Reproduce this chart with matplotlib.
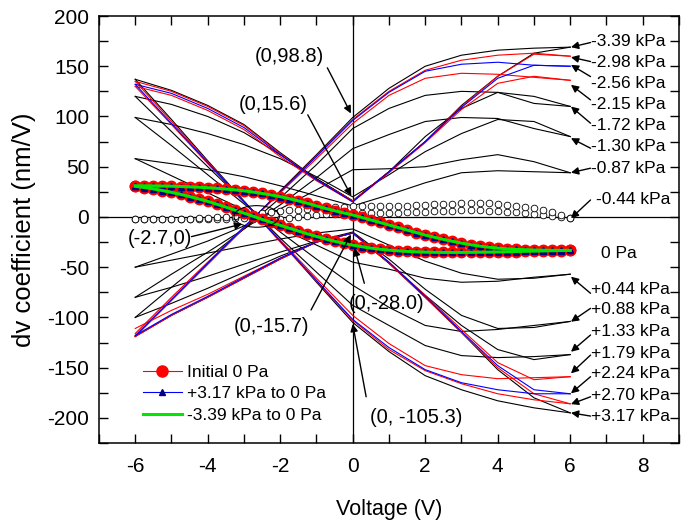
import matplotlib
matplotlib.use('Agg')
import matplotlib.pyplot as plt
from matplotlib.patches import Ellipse
from matplotlib.lines import Line2D
from matplotlib.ticker import MultipleLocator

plt.rcParams['font.family'] = ['Liberation Sans', 'DejaVu Sans']
plt.rcParams['axes.unicode_minus'] = False

# ---------------- data ----------------
V_LOOP = [-6, -5, -4, -3, -2, -1, 0, 1, 2, 3, 4, 5, 6]

# negative pressures: branch a (falls to ~15 at 0 V then rises), branch b (steep rise then plateau)
neg339_a = [137, 126, 111, 92, 64, 38, 16, 45, 75, 111, 140, 163, 169]
neg339_b = [-119, -83, -47, -11, 26, 62, 99, 128, 150, 161, 166, 168, 169]
neg298_a = [135, 125, 110, 91, 63, 37, 16, 45, 75, 110, 140, 162, 160]
neg298_b = [-119, -83, -47, -11, 25, 61, 97, 125, 146, 156, 161, 163, 160]
neg256_a = [132, 123, 108, 89, 62, 37, 15, 45, 75, 109, 138, 151, 150]
neg256_b = [-118, -82, -46, -10, 25, 60, 96, 124, 145, 152, 154, 151, 150]
neg215_a = [130, 121, 106, 87, 60, 36, 15, 44, 74, 107, 133, 140, 136]
neg215_b = [-116, -80, -45, -10, 24, 58, 93, 121, 138, 143, 142, 139, 136]
neg172_a = [120, 112, 100, 84, 62, 38, 16, 45, 80, 108, 124, 120, 110]
neg172_b = [-100, -70, -41, -12, 19, 52, 88, 108, 121, 125, 124, 113, 110]
neg130_a = [99, 92, 83, 72, 58, 40, 20, 42, 65, 83, 97, 95, 80]
neg130_b = [-80, -57, -35, -12, 12, 39, 68, 82, 95, 99, 98, 88, 80]
neg087_a = [58, 53, 47, 40, 31, 21, 11, 22, 34, 44, 46, 45, 44]
neg087_b = [-50, -37, -24, -9, 8, 27, 47, 48, 50, 57, 62, 55, 44]

# positive pressures: branch s (steep fall then plateau), branch c (rises to ~-16 at 0 V then falls)
pos317_s = [137, 97, 56, 16, -24, -65, -105, -134, -158, -172, -183, -190, -195]
pos317_c = [-119, -98, -80, -61, -42, -25, -16, -46, -80, -115, -152, -180, -195]
pos270_s = [135, 95, 55, 15, -25, -64, -103, -132, -153, -166, -176, -182, -186]
pos270_c = [-119, -98, -80, -61, -42, -25, -16, -46, -80, -115, -150, -176, -186]
pos224_s = [132, 93, 54, 15, -24, -63, -102, -130, -152, -165, -172, -176, -176]
pos224_c = [-118, -97, -79, -60, -41, -25, -16, -45, -79, -114, -148, -172, -176]
pos179_s = [130, 92, 53, 15, -23, -61, -98, -126, -148, -157, -161, -160, -159]
pos179_c = [-111, -93, -77, -59, -41, -25, -16, -45, -78, -112, -145, -162, -159]
pos133_s = [120, 85, 50, 15, -21, -55, -88, -108, -128, -138, -140, -139, -137]
pos133_c = [-100, -86, -71, -55, -39, -25, -16, -46, -78, -108, -132, -142, -137]
pos088_s = [99, 71, 42, 13, -15, -42, -68, -90, -108, -114, -112, -108, -104]
pos088_c = [-80, -70, -59, -47, -35, -24, -15, -42, -72, -98, -111, -110, -104]
pos044_s = [58, 41, 24, 7, -11, -28, -45, -52, -61, -65, -64, -60, -57]
pos044_c = [-50, -43, -36, -29, -22, -16, -12, -28, -44, -56, -62, -61, -57]

# fine voltage grid for the marker curves (0.25 V steps)
V_FINE = [-6.0, -5.75, -5.5, -5.25, -5.0, -4.75, -4.5, -4.25, -4.0, -3.75, -3.5, -3.25,
          -3.0, -2.75, -2.5, -2.25, -2.0, -1.75, -1.5, -1.25, -1.0, -0.75, -0.5, -0.25,
          0.0, 0.25, 0.5, 0.75, 1.0, 1.25, 1.5, 1.75, 2.0, 2.25, 2.5, 2.75,
          3.0, 3.25, 3.5, 3.75, 4.0, 4.25, 4.5, 4.75, 5.0, 5.25, 5.5, 5.75, 6.0]

zero_upper = [31.0, 31.0, 30.9, 30.8, 30.6, 30.3, 30.0, 29.6, 29.1, 28.5, 27.8, 27.0,
              26.0, 24.8, 23.4, 21.9, 20.2, 18.2, 16.0, 13.6, 11.0, 8.5, 6.2, 4.0,
              2.0, -0.5, -3.0, -5.5, -8.0, -10.5, -13.0, -15.5, -18.0, -20.2, -22.3, -24.2,
              -26.0, -27.6, -29.0, -30.1, -31.0, -31.7, -32.2, -32.6, -32.9, -33.1, -33.2, -33.3, -33.3]
zero_lower = [30.5, 29.3, 27.9, 26.3, 24.5, 22.5, 20.3, 18.0, 15.5, 12.7, 9.8, 6.8,
              3.8, 0.7, -2.4, -5.4, -8.3, -11.2, -14.0, -16.8, -19.4, -21.9, -24.2, -26.2,
              -28.0, -29.6, -31.0, -32.1, -33.0, -33.7, -34.3, -34.7, -35.0, -35.2, -35.3, -35.3,
              -35.3, -35.2, -35.1, -35.0, -34.8, -34.6, -34.4, -34.2, -34.0, -33.8, -33.6, -33.4, -33.3]

m044_lower = [-2.0, -2.0, -2.0, -2.0, -2.0, -2.0, -2.0, -2.0, -2.0, -1.9, -1.8, -1.5,
              -1.2, -1.6, -2.3, -2.6, -2.2, -1.2, -0.2, 0.9, 1.9, 2.6, 3.1, 3.5,
              3.7, 3.8, 3.9, 4.0, 4.1, 4.3, 4.6, 4.9, 5.2, 5.6, 6.0, 6.3,
              6.5, 6.6, 6.6, 6.4, 6.0, 5.4, 4.6, 3.8, 2.9, 2.0, 1.0, -0.2, -1.3]
m044_upper = [-2.0, -2.0, -2.0, -2.0, -1.9, -1.8, -1.6, -1.3, -1.0, -0.5, 0.2, 1.0,
              2.0, 3.0, 4.0, 5.0, 5.8, 6.6, 7.4, 8.2, 9.0, 9.6, 10.0, 10.3,
              10.5, 10.6, 10.6, 10.7, 10.8, 11.0, 11.3, 11.6, 12.0, 12.4, 12.8, 13.2,
              13.5, 13.7, 13.7, 13.5, 13.0, 12.2, 11.2, 10.0, 8.5, 6.8, 4.8, 1.8, -1.3]

# right-hand pressure labels: (text, label y, arrow tail y, arrow tip y)
press_labels = ['-3.39 kPa', '-2.98 kPa', '-2.56 kPa', '-2.15 kPa', '-1.72 kPa', '-1.30 kPa',
                '-0.87 kPa', '-0.44 kPa', '0 Pa', '+0.44 kPa', '+0.88 kPa', '+1.33 kPa',
                '+1.79 kPa', '+2.24 kPa', '+2.70 kPa', '+3.17 kPa']
label_y = [174.6, 153.7, 133.2, 111.6, 90.6, 70.0, 48.5, 16.9, -36.2, -72.7, -92.6,
           -114.2, -135.8, -155.7, -177.3, -198.2]
tail_y = [173.6, 154.7, 139.7, 116.5, 93.3, 68.4, 48.5, 16.9, None, -76.0, -91.0,
          -117.5, -137.5, -159.0, -179.0, -198.2]
tip_y = [169.0, 159.0, 151.4, 131.5, 109.9, 78.4, 44.1, -1.3, None, -59.5, -104.3,
         -134.2, -155.7, -175.6, -186.3, -195.0]

# point annotations: text, text position, arrow tail, arrow tip
point_notes = [
    ('(0,98.8)', (-1.74, 159.7), (-0.70, 148.4), (-0.05, 103.0)),
    ('(0,15.6)', (-2.20, 111.6), (-1.24, 101.6), (-0.04, 21.0)),
    ('(-2.7,0)', (-5.32, -21.2), (-4.45, -19.6), (-3.05, -7.0)),
    ('(0,-15.7)', (-2.25, -109.3), (-1.15, -92.6), (-0.05, -17.5)),
    ('(0,-28.0)', (0.92, -86.0), (0.32, -66.0), (0.05, -31.0)),
    ('(0, -105.3)', (1.75, -199.2), (0.37, -179.0), (0.0, -106.5)),
]

# ---------------- figure ----------------
fig = plt.figure(figsize=(6.85, 5.25), dpi=100)
ax = fig.add_axes([0.1445, 0.1562, 0.8467, 0.8133])

ax.axhline(0, color='black', lw=0.9, zorder=1)
ax.axvline(0, color='black', lw=0.9, zorder=1)

black_loops = [neg339_a, neg339_b, neg172_a, neg172_b, neg130_a, neg130_b, neg087_a, neg087_b,
               pos317_s, pos317_c, pos133_s, pos133_c, pos088_s, pos088_c, pos044_s, pos044_c]
red_loops = [neg298_a, neg298_b, neg215_a, neg215_b, pos270_s, pos270_c, pos179_s, pos179_c]
blue_loops = [neg256_a, neg256_b, pos224_s, pos224_c]
for ys in black_loops:
    ax.plot(V_LOOP, ys, color='black', lw=0.8, zorder=2)
for ys in red_loops:
    ax.plot(V_LOOP, ys, color='#ff0000', lw=0.8, zorder=3)
for ys in blue_loops:
    ax.plot(V_LOOP, ys, color='#0000ff', lw=0.8, zorder=4)

# -0.44 kPa open circles
for ys in (m044_lower, m044_upper):
    ax.plot(V_FINE, ys, ls='none', marker='o', ms=4.8, mfc='white', mec='black', mew=0.6, zorder=5)

# 0 Pa curves
for ys in (zero_upper, zero_lower):
    ax.plot(V_FINE, ys, color='#ff0000', lw=0.8, marker='o', ms=7.5, mec='#ff0000', zorder=6)
    ax.plot(V_FINE, ys, color='#0000ff', lw=0.8, marker='^', ms=4.5, mfc='#000080', mec='#000080', zorder=7)
    ax.plot(V_FINE, ys, color='#00e600', lw=2.2, zorder=8)

# ellipse at (-2.7, 0)
ax.add_patch(Ellipse((-2.65, 0.5), 1.25, 21.5, fill=False, ec='black', lw=0.8, zorder=9))

arrow_kw = dict(arrowstyle='-|>', color='black', lw=1.0, mutation_scale=11, shrinkA=0, shrinkB=0)

for txt, ly, ty, py in zip(press_labels, label_y, tail_y, tip_y):
    x0 = 6.58
    if txt == '-0.44 kPa':
        x0 = 6.7
    if txt == '0 Pa':
        x0 = 6.84
    ax.text(x0, ly, txt, fontsize=12.5, ha='left', va='center', zorder=10)
    if ty is not None:
        ax.annotate('', xy=(6.02, py), xytext=(6.56, ty), arrowprops=arrow_kw, zorder=10)

for txt, tpos, tail, tip in point_notes:
    ax.text(tpos[0], tpos[1], txt, fontsize=14.5, ha='center', va='center', zorder=10)
    ax.annotate('', xy=tip, xytext=tail, arrowprops=arrow_kw, zorder=10)

ax.set_xlim(-7, 9)
ax.set_ylim(-225, 200)
ax.xaxis.set_major_locator(MultipleLocator(2))
ax.xaxis.set_minor_locator(MultipleLocator(1))
ax.yaxis.set_major_locator(MultipleLocator(50))
ax.yaxis.set_minor_locator(MultipleLocator(25))
ax.tick_params(which='both', direction='in', top=True, right=True, length=6.5, width=1.0,
               labelsize=15)
ax.tick_params(axis='x', which='both', pad=10)
ax.tick_params(axis='y', which='both', pad=7)
for s in ax.spines.values():
    s.set_linewidth(1.1)

ax.set_xlabel('Voltage (V)', fontsize=15.5, labelpad=17)
ax.set_ylabel('dv coefficient (nm/V)', fontsize=18.5, labelpad=8)

handles = [
    Line2D([], [], color='#ff0000', lw=0.8, marker='o', ms=8, mec='#ff0000'),
    Line2D([], [], color='#0000ff', lw=0.8, marker='^', ms=5, mfc='#000080', mec='#000080'),
    Line2D([], [], color='#00e600', lw=2.2),
]
ax.legend(handles, ['Initial 0 Pa', '+3.17 kPa to 0 Pa', '-3.39 kPa to 0 Pa'],
          loc='upper left', bbox_to_anchor=(0.055, 0.212), frameon=False, fontsize=12.5,
          handlelength=2.24, handletextpad=0.3, labelspacing=0.36, borderpad=0.2)

fig.savefig('out.png', dpi=100)
